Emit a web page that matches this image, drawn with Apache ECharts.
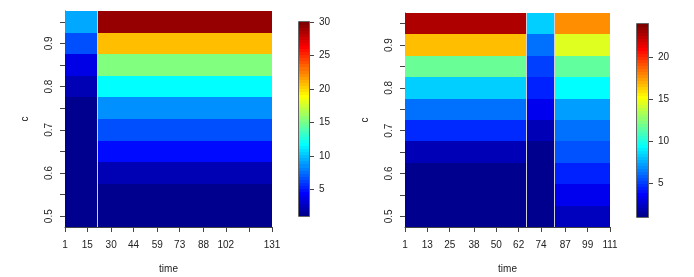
<!DOCTYPE html>
<html><head><meta charset="utf-8">
<script src="https://cdn.jsdelivr.net/npm/echarts@6/dist/echarts.min.js"></script>
<style>html,body{margin:0;padding:0;background:#fff}#c{width:694px;height:277px}</style>
</head><body><div id="c"></div>
<script>
// ---- data ----
const cLevels = [0.5, 0.55, 0.6, 0.65, 0.7, 0.75, 0.8, 0.85, 0.9, 0.95];
const cTickLabels = [0.5, 0.6, 0.7, 0.8, 0.9];

// left panel
const leftTimeBreaks = [1, 21, 131];
const leftBlock1 = [1, 1, 1, 1, 1, 1, 2.1, 3.5, 6.5, 9.1];
const leftBlock2 = [1, 1, 2.1, 4.5, 6.5, 8.4, 11.6, 15.3, 20.8, 29.3];
const leftTimeTicks = [1, 15, 30, 44, 59, 73, 88, 102, 117, 131];
const leftTimeLabels = [1, 15, 30, 44, 59, 73, 88, 102, 131];
const leftZRange = [1, 30];
const leftZTicks = [5, 10, 15, 20, 25, 30];

// right panel
const rightTimeBreaks = [1, 66, 81, 111];
const rightBlock1 = [1, 1, 1, 1.9, 4.5, 6.1, 8.3, 11.8, 16.7, 22.9];
const rightBlock2 = [1, 1, 1, 1, 1.9, 3.2, 4.3, 5.0, 6.1, 8.3];
const rightBlock3 = [2.1, 3.2, 4.3, 5.4, 6.1, 7.2, 9.4, 11.6, 14.5, 17.8];
const rightTimeTicks = [1, 13, 25, 38, 50, 62, 74, 87, 99, 111];
const rightZRange = [1, 24];
const rightZTicks = [5, 10, 15, 20];

const jetColors = ["#00008F","#00009F","#0000AF","#0000BF","#0000CF","#0000DF","#0000EF","#0000FF",
"#0010FF","#0020FF","#0030FF","#0040FF","#0050FF","#0060FF","#0070FF","#0080FF",
"#008FFF","#009FFF","#00AFFF","#00BFFF","#00CFFF","#00DFFF","#00EFFF","#00FFFF",
"#10FFEF","#20FFDF","#30FFCF","#40FFBF","#50FFAF","#60FF9F","#70FF8F","#80FF80",
"#8FFF70","#9FFF60","#AFFF50","#BFFF40","#CFFF30","#DFFF20","#EFFF10","#FFFF00",
"#FFEF00","#FFDF00","#FFCF00","#FFBF00","#FFAF00","#FF9F00","#FF8F00","#FF8000",
"#FF7000","#FF6000","#FF5000","#FF4000","#FF3000","#FF2000","#FF1000","#FF0000",
"#EF0000","#DF0000","#CF0000","#BF0000","#AF0000","#9F0000","#8F0000","#800000"];

// ---- build ----
const FONT = 'Liberation Sans, Arial, sans-serif';
const TXT = '#222';
const AX = '#444';

function makeHeatData(breaks, blocks) {
  const out = [];
  blocks.forEach((col, b) => col.forEach((v, r) => out.push([breaks[b], breaks[b + 1], cLevels[r], v])));
  return out;
}
const half = (cLevels[1] - cLevels[0]) / 2;

function heatRenderer(xmin) {
  return function (params, api) {
    const x0 = api.value(0), x1 = api.value(1), c = api.value(2);
    const p0 = api.coord([x0, c + half]);
    const p1 = api.coord([x1, c - half]);
    const X0 = Math.round(p0[0]), X1 = Math.round(p1[0]);
    const Y0 = Math.round(p0[1]), Y1 = Math.round(p1[1]);
    const children = [{ type: 'rect', shape: { x: X0, y: Y0, width: X1 - X0, height: Y1 - Y0 },
      style: { fill: api.visual('color') } }];
    if (x0 > xmin) {
      children.push({ type: 'line', shape: { x1: X0 + 0.5, y1: Y0, x2: X0 + 0.5, y2: Y1 },
        style: { stroke: '#cfd0da', lineWidth: 1 } });
    }
    return { type: 'group', children };
  };
}

function barRenderer(zr) {
  const n = jetColors.length;
  const step = (zr[1] - zr[0]) / n;
  return function (params, api) {
    const i = api.value(0);
    const lo = zr[0] + i * step, hi = lo + step;
    const p0 = api.coord([0, hi]);
    const p1 = api.coord([1, lo]);
    const X0 = Math.round(p0[0]), X1 = Math.round(p1[0]);
    const Y0 = Math.round(p0[1]), Y1 = Math.round(p1[1]);
    const children = [{ type: 'rect', shape: { x: X0, y: Y0, width: X1 - X0, height: Y1 - Y0 },
      style: { fill: jetColors[i] } }];
    if (i === n - 1) {
      const b0 = api.coord([0, zr[1]]), b1 = api.coord([1, zr[0]]);
      children.push({ type: 'rect', shape: { x: Math.round(b0[0]) - 0.5, y: Math.round(b0[1]) - 0.5,
        width: Math.round(b1[0]) - Math.round(b0[0]) + 1, height: Math.round(b1[1]) - Math.round(b0[1]) + 1 },
        style: { fill: 'none', stroke: '#666', lineWidth: 1 } });
    }
    return { type: 'group', children };
  };
}

const labelStyle = { color: TXT, fontSize: 10, fontFamily: FONT };
const tickStyle = { show: true, length: 5, lineStyle: { color: AX, width: 1 } };

function timeAxis(gi, max, ticks, labels) {
  return {
    type: 'value', gridIndex: gi, min: 1, max: max,
    name: 'time', nameLocation: 'middle', nameGap: 37,
    nameTextStyle: { color: TXT, fontSize: 10, fontFamily: FONT },
    axisLine: { show: true, onZero: false, lineStyle: { color: AX, width: 1 } },
    axisTick: Object.assign({ customValues: ticks }, tickStyle),
    axisLabel: Object.assign({ customValues: labels, margin: 13 }, labelStyle),
    splitLine: { show: false }
  };
}
function cAxis(gi) {
  return {
    type: 'value', gridIndex: gi, min: cLevels[0] - half, max: cLevels[cLevels.length - 1] + half,
    name: 'c', nameLocation: 'middle', nameGap: 35,
    nameTextStyle: { color: TXT, fontSize: 10, fontFamily: FONT },
    axisLine: { show: true, onZero: false, lineStyle: { color: AX, width: 1 } },
    axisTick: Object.assign({ customValues: cLevels }, tickStyle),
    axisLabel: Object.assign({ customValues: cTickLabels, rotate: 90, margin: 11,
      formatter: v => String(Math.round(v * 10) / 10) }, labelStyle),
    splitLine: { show: false }
  };
}
function barXAxis(gi) {
  return { type: 'value', gridIndex: gi, min: 0, max: 1, show: false, axisLine: { onZero: false } };
}
function barYAxis(gi, zr, ticks) {
  return {
    type: 'value', gridIndex: gi, min: zr[0], max: zr[1], position: 'right',
    axisLine: { show: true, onZero: false, lineStyle: { color: AX, width: 1 } },
    axisTick: Object.assign({ customValues: ticks }, tickStyle),
    axisLabel: Object.assign({ customValues: ticks, margin: 10 }, labelStyle),
    splitLine: { show: false }
  };
}

const gridBase = { containLabel: false, outerBoundsMode: 'none' };
const option = {
  animation: false,
  backgroundColor: '#fff',
  grid: [
    Object.assign({ left: 65, top: 11, width: 207, height: 216 }, gridBase),
    Object.assign({ left: 299, top: 22, width: 10, height: 194 }, gridBase),
    Object.assign({ left: 405, top: 13, width: 205, height: 214 }, gridBase),
    Object.assign({ left: 637, top: 24, width: 11, height: 193 }, gridBase)
  ],
  xAxis: [
    timeAxis(0, 131, leftTimeTicks, leftTimeLabels),
    barXAxis(1),
    timeAxis(2, 111, rightTimeTicks, rightTimeTicks),
    barXAxis(3)
  ],
  yAxis: [
    cAxis(0),
    barYAxis(1, leftZRange, leftZTicks),
    cAxis(2),
    barYAxis(3, rightZRange, rightZTicks)
  ],
  visualMap: [
    { type: 'continuous', show: false, min: leftZRange[0], max: leftZRange[1], dimension: 3,
      seriesIndex: 0, inRange: { color: jetColors } },
    { type: 'continuous', show: false, min: rightZRange[0], max: rightZRange[1], dimension: 3,
      seriesIndex: 2, inRange: { color: jetColors } }
  ],
  series: [
    { type: 'custom', xAxisIndex: 0, yAxisIndex: 0, renderItem: heatRenderer(1),
      encode: { x: [0, 1], y: 2 }, data: makeHeatData(leftTimeBreaks, [leftBlock1, leftBlock2]) },
    { type: 'custom', xAxisIndex: 1, yAxisIndex: 1, renderItem: barRenderer(leftZRange),
      encode: { x: -1, y: -1 }, data: jetColors.map((c, i) => [i]) },
    { type: 'custom', xAxisIndex: 2, yAxisIndex: 2, renderItem: heatRenderer(1),
      encode: { x: [0, 1], y: 2 }, data: makeHeatData(rightTimeBreaks, [rightBlock1, rightBlock2, rightBlock3]) },
    { type: 'custom', xAxisIndex: 3, yAxisIndex: 3, renderItem: barRenderer(rightZRange),
      encode: { x: -1, y: -1 }, data: jetColors.map((c, i) => [i]) }
  ]
};
const chart = echarts.init(document.getElementById('c'), null, { renderer: 'canvas' });
chart.setOption(option);
</script>
</body></html>
